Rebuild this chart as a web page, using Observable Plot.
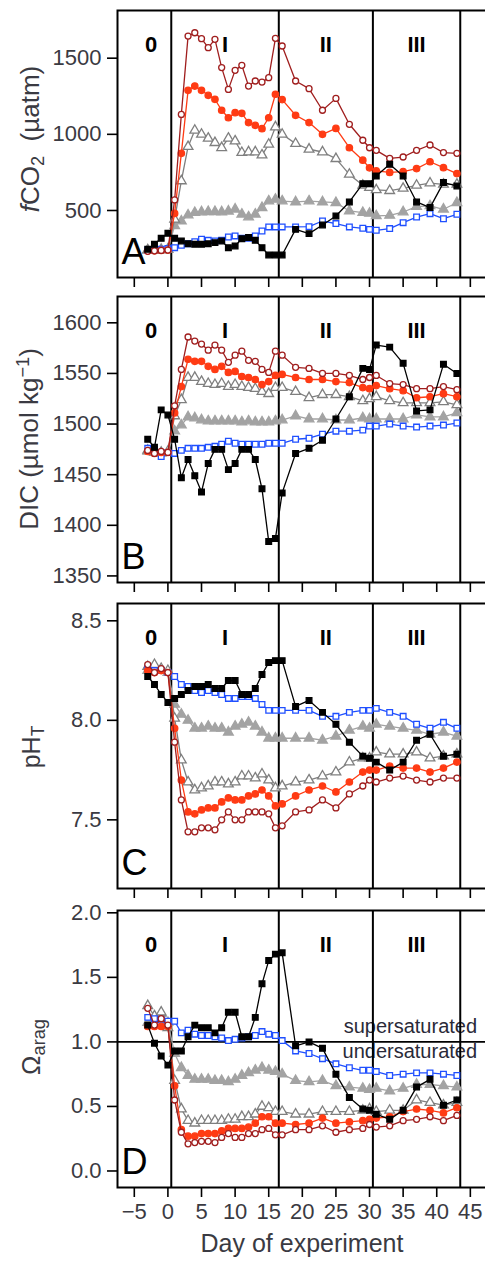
<!DOCTYPE html>
<html><head><meta charset="utf-8">
<script src="https://cdn.jsdelivr.net/npm/d3@7"></script>
<script src="https://cdn.jsdelivr.net/npm/@observablehq/plot@0.6"></script>
<style>
html,body{margin:0;padding:0;background:#fff;overflow:hidden;}
#wrap{position:relative;width:485px;height:1263px;overflow:hidden;font-family:"Liberation Sans",Arial,sans-serif;color:#3a3a42;}
#wrap svg{position:absolute;left:0;max-width:none !important;}
.ylab{position:absolute;white-space:nowrap;line-height:1;transform:translate(-50%,-50%) rotate(-90deg);}
.ylab sub{font-size:70%;vertical-align:-0.28em;line-height:0;}
.ylab sup{font-size:70%;vertical-align:0.5em;line-height:0;}
.xlab{position:absolute;white-space:nowrap;line-height:1;transform:translateX(-50%);font-size:25px;}
</style></head><body><div id="wrap"></div><script>
// ---------- shared ----------
const days = [-3,-2,-1,0,1,2,3,4,5,6,7,8,9,10,11,12,13,14,15,16,17,19,21,23,25,27,29,30,31,33,35,37,39,41,43];
const phaseNames = ["0","I","II","III"];
const phaseX = [-2.5, 8.5, 23.5, 37];
const phaseBounds = [0.5, 16.5, 30.5, 43.5];
const xTicks = [-5,0,5,10,15,20,25,30,35,40,45];

// ---------- Panel A: fCO2 (µatm) ----------
const fco2_k   = [245,278,317,350, 317,300,282,278,278,282,289,300,256,267,315,322,304,256,208,208, 208,376,348,405,464,556,676,676, 726,803,726,556,519,683,661];
const fco2_b   = [240,242,245,250, 256,271,282,295,311,304,300,304,326,333,317,317,333,365,392,392, 392,392,394,431,414,392,383,376, 370,381,420,457,479,446,475];
const fco2_gf  = [240,240,245,245, 400,430,470,486,490,492,492,490,495,508,475,457,475,518,562,573, 562,556,562,556,551,497,486,481, 465,468,490,525,530,508,551];
const fco2_go  = [240,240,240,245, 442,694,919,1026,1000,974,945,912,974,956,880,884,884,864,934,1048, 1000,939,902,884,840,737,665,650, 635,630,645,665,680,672,672];
const fco2_r   = [235,235,238,240, 481,875,1289,1317,1289,1256,1230,1158,1109,1142,1138,1077,1059,1037,1109,1263, 1228,1125,1077,1000,1039,912,830,780, 760,750,755,775,820,781,742];
const fco2_dr  = [232,235,238,240, 569,1131,1645,1667,1628,1569,1624,1438,1295,1420,1453,1317,1350,1343,1372,1630, 1580,1350,1300,1158,1236,1066,961,912, 895,842,851,895,930,880,875];

// ---------- Panel B: DIC (µmol kg-1) ----------
const dic_k  = [1485,1477,1514,1509, 1485,1447,1465,1449,1433,1461,1475,1475,1455,1461,1475,1475,1465,1436,1384,1387, 1432,1471,1476,1484,1505,1527,1555,1554, 1578,1576,1560,1513,1514,1559,1550];
const dic_b  = [1476,1475,1468,1472, 1471,1474,1476,1476,1476,1477,1478,1480,1483,1481,1480,1480,1480,1480,1481,1481, 1481,1485,1486,1490,1493,1493,1494,1498, 1498,1500,1498,1497,1498,1499,1501];
const dic_gf = [1473,1472,1471,1472, 1493,1499,1507,1506,1504,1503,1503,1503,1503,1503,1502,1503,1502,1502,1502,1503, 1504,1508,1505,1505,1504,1504,1506,1505, 1505,1505,1505,1509,1507,1507,1511];
const dic_go = [1474,1472,1472,1473, 1508,1524,1546,1546,1542,1540,1539,1540,1537,1539,1537,1536,1535,1532,1530,1536, 1536,1532,1526,1529,1529,1527,1523,1525, 1527,1523,1521,1521,1521,1522,1519];
const dic_r  = [1473,1471,1472,1472, 1511,1537,1564,1562,1562,1557,1554,1557,1551,1552,1547,1546,1544,1539,1542,1548, 1549,1546,1544,1544,1542,1541,1536,1535, 1538,1535,1533,1526,1527,1530,1527];
const dic_dr = [1474,1471,1473,1472, 1518,1554,1586,1582,1579,1573,1578,1573,1561,1568,1572,1563,1562,1554,1551,1572, 1568,1556,1555,1550,1550,1548,1544,1546, 1548,1540,1539,1535,1535,1537,1534];

// ---------- Panel C: pH_T ----------
const ph_k  = [8.22,8.18,8.13,8.09, 8.11,8.13,8.15,8.17,8.17,8.18,8.16,8.16,8.20,8.20,8.13,8.13,8.16,8.23,8.29,8.30, 8.30,8.07,8.10,8.04,7.98,7.89,7.82,7.81, 7.79,7.75,7.79,7.90,7.93,7.82,7.83];
const ph_b  = [8.26,8.25,8.25,8.24, 8.22,8.18,8.17,8.15,8.14,8.15,8.14,8.13,8.11,8.11,8.12,8.12,8.11,8.08,8.05,8.05, 8.05,8.05,8.05,8.02,8.02,8.04,8.05,8.05, 8.06,8.04,8.02,7.98,7.96,7.99,7.96];
const ph_gf = [8.25,8.27,8.25,8.24, 8.08,8.03,8.00,7.96,7.96,7.97,7.96,7.96,7.94,7.97,7.98,7.99,7.97,7.94,7.91,7.91, 7.91,7.91,7.91,7.90,7.92,7.95,7.97,7.96, 7.98,7.97,7.96,7.95,7.93,7.94,7.92];
const ph_go = [8.27,8.28,8.26,8.25, 8.01,7.80,7.69,7.65,7.66,7.67,7.69,7.69,7.68,7.69,7.72,7.72,7.71,7.73,7.70,7.66, 7.67,7.69,7.70,7.72,7.74,7.79,7.81,7.81, 7.84,7.83,7.83,7.84,7.81,7.82,7.83];
const ph_r  = [8.25,8.24,8.25,8.24, 7.96,7.70,7.54,7.53,7.55,7.56,7.56,7.59,7.61,7.60,7.60,7.62,7.63,7.65,7.62,7.57, 7.58,7.62,7.65,7.67,7.64,7.69,7.74,7.75, 7.75,7.77,7.76,7.76,7.74,7.76,7.79];
const ph_dr = [8.28,8.24,8.26,8.24, 7.89,7.60,7.44,7.44,7.46,7.46,7.45,7.50,7.54,7.50,7.50,7.54,7.54,7.54,7.53,7.46, 7.47,7.54,7.55,7.60,7.56,7.63,7.67,7.70, 7.69,7.71,7.72,7.70,7.69,7.71,7.71];

// ---------- Panel D: Omega aragonite ----------
const om_k  = [1.13,0.99,0.89,0.82, 0.93,0.93,1.04,1.13,1.11,1.11,1.07,1.11,1.23,1.23,1.04,1.04,1.19,1.45,1.63,1.68, 1.69,0.97,1.00,0.95,0.75,0.57,0.48,0.47, 0.44,0.40,0.47,0.65,0.71,0.51,0.55];
const om_b  = [1.19,1.18,1.17,1.16, 1.16,1.07,1.09,1.06,1.05,1.05,1.04,1.03,1.01,1.02,1.03,1.04,1.05,1.08,1.06,1.05, 1.01,0.93,0.91,0.87,0.83,0.80,0.78,0.78, 0.77,0.74,0.75,0.76,0.76,0.75,0.74];
const om_gf = [1.15,1.20,1.22,1.15, 0.91,0.80,0.74,0.71,0.71,0.71,0.70,0.70,0.69,0.71,0.74,0.76,0.78,0.80,0.78,0.77, 0.75,0.70,0.69,0.70,0.66,0.65,0.64,0.63, 0.64,0.62,0.64,0.67,0.67,0.66,0.65];
const om_go = [1.28,1.20,1.23,1.11, 0.70,0.48,0.39,0.37,0.39,0.39,0.39,0.39,0.40,0.40,0.42,0.42,0.44,0.50,0.49,0.46, 0.46,0.44,0.44,0.46,0.46,0.46,0.47,0.48, 0.46,0.47,0.47,0.55,0.53,0.51,0.53];
const om_r  = [1.12,1.12,1.12,1.12, 0.66,0.32,0.27,0.27,0.29,0.29,0.29,0.31,0.33,0.33,0.33,0.34,0.37,0.42,0.42,0.37, 0.37,0.36,0.37,0.41,0.37,0.38,0.39,0.40, 0.41,0.42,0.46,0.48,0.47,0.45,0.49];
const om_dr = [1.26,1.13,1.18,1.13, 0.55,0.30,0.21,0.22,0.23,0.23,0.22,0.26,0.29,0.26,0.26,0.29,0.29,0.32,0.33,0.28, 0.28,0.32,0.32,0.35,0.30,0.32,0.33,0.36, 0.34,0.35,0.39,0.40,0.42,0.39,0.43];

// ---------- styles ----------
const seriesOrder = ["gf","go","b","r","dr","k"];
const style = {
  gf: {symbol:"triangle", fill:"#a3a3a3", stroke:"#a3a3a3", line:"#a3a3a3", r:3.6},
  go: {symbol:"triangle", fill:"white",   stroke:"#7f7f7f", line:"#7f7f7f", r:3.6},
  b:  {symbol:"square",   fill:"white",   stroke:"#1f4fff", line:"#1f4fff", r:3.2},
  r:  {symbol:"circle",   fill:"#ff3b14", stroke:"#ff3b14", line:"#ff3b14", r:3.2},
  dr: {symbol:"circle",   fill:"white",   stroke:"#a01e1e", line:"#a01e1e", r:3.0},
  k:  {symbol:"square",   fill:"black",   stroke:"black",   line:"black",   r:3.2}
};

function table(series) {
  return seriesOrder.flatMap(s => days.map((d, i) => ({day: d, v: series[s][i], s})));
}

const W = 490, ML = 117, MR = 0, MT = 10;
const wrap = document.getElementById("wrap");

function panel({top, frameH, mb, yDomain, yTicks, fmt, letter, series, showX, extra = []}) {
  const data = table(series);
  const marks = [...extra, Plot.ruleX(phaseBounds, {stroke: "black", strokeWidth: 2})];
  for (const s of seriesOrder) {
    const st = style[s];
    const d = data.filter(r => r.s === s);
    marks.push(Plot.line(d, {x: "day", y: "v", stroke: st.line, strokeWidth: 1.3}));
    marks.push(Plot.dot(d, {x: "day", y: "v", symbol: st.symbol, r: st.r, fill: st.fill, stroke: st.stroke, strokeWidth: 1.3}));
  }
  marks.push(Plot.text(phaseNames, {x: phaseX, text: d => d, frameAnchor: "top", dy: 26, fontWeight: "bold", fontSize: 22, fill: "black"}));
  marks.push(Plot.text([letter], {text: d => d, frameAnchor: "bottom-left", dx: 4, dy: -14, lineAnchor: "bottom", textAnchor: "start", fontSize: 36, fill: "black"}));
  marks.push(Plot.axisY(yTicks, {tickSize: 10, tickPadding: 6, tickFormat: fmt, fontSize: 22, stroke: "black", strokeWidth: 1.6, fill: "#3a3a42", label: null}));
  marks.push(Plot.axisX(xTicks, {tickSize: 10, tickPadding: 6, fontSize: 22, stroke: "black", strokeWidth: 1.6, fill: "#3a3a42", label: null,
    tickFormat: showX ? (d => d < 0 ? "\u2212" + Math.abs(d) : String(d)) : (() => "")}));
  marks.push(Plot.frame({stroke: "black", strokeWidth: 2}));
  const svg = Plot.plot({
    width: W, height: MT + frameH + mb,
    marginLeft: ML, marginRight: MR, marginTop: MT, marginBottom: mb,
    x: {domain: [-7.5, 48]},
    y: {domain: yDomain},
    style: {fontFamily: '"Liberation Sans", Arial, sans-serif', background: "transparent", overflow: "visible", maxWidth: "none"},
    marks
  });
  svg.style.top = (top - MT) + "px";
  svg.style.maxWidth = "none";
  svg.style.width = W + "px";
  svg.style.height = (MT + frameH + mb) + "px";
  wrap.appendChild(svg);
}

panel({top: 10, frameH: 267, mb: 14, yDomain: [60, 1813], yTicks: [500, 1000, 1500], fmt: d3.format("d"), letter: "A", showX: false,
  series: {k: fco2_k, b: fco2_b, gf: fco2_gf, go: fco2_go, r: fco2_r, dr: fco2_dr}});
panel({top: 296, frameH: 286, mb: 14, yDomain: [1343.5, 1626], yTicks: [1350, 1400, 1450, 1500, 1550, 1600], fmt: d3.format("d"), letter: "B", showX: false,
  series: {k: dic_k, b: dic_b, gf: dic_gf, go: dic_go, r: dic_r, dr: dic_dr}});
panel({top: 603, frameH: 285, mb: 14, yDomain: [7.155, 8.587], yTicks: [7.5, 8.0, 8.5], fmt: d3.format(".1f"), letter: "C", showX: false,
  series: {k: ph_k, b: ph_b, gf: ph_gf, go: ph_go, r: ph_r, dr: ph_dr}});
panel({top: 910, frameH: 277, mb: 40, yDomain: [-0.128, 2.018], yTicks: [0, 0.5, 1.0, 1.5, 2.0], fmt: d3.format(".1f"), letter: "D", showX: true,
  series: {k: om_k, b: om_b, gf: om_gf, go: om_go, r: om_r, dr: om_dr},
  extra: [
    Plot.text(["supersaturated"], {text: d => d, x: () => 46, y: () => 1, dy: -9, lineAnchor: "bottom", textAnchor: "end", fontSize: 20, fill: "#2a2a38"}),
    Plot.text(["undersaturated"], {text: d => d, x: () => 46, y: () => 1, dy: 16, lineAnchor: "bottom", textAnchor: "end", fontSize: 20, fill: "#2a2a38"}),
    Plot.ruleY([1], {stroke: "black", strokeWidth: 1.6})
  ]});

// axis titles (HTML text for italics / sub- and superscripts)
function ylab(html, cx, cy, size) {
  const el = document.createElement("div");
  el.className = "ylab";
  el.innerHTML = html;
  el.style.left = cx + "px"; el.style.top = cy + "px"; el.style.fontSize = size + "px";
  wrap.appendChild(el);
}
ylab('<i>f</i>CO<sub>2</sub>&nbsp; (\u00b5atm)', 30, 139, 26);
ylab('DIC (\u00b5mol kg<sup>\u22121</sup>)', 29, 439, 26);
ylab('pH<sub>T</sub>', 30.5, 747, 25);
ylab('\u03a9<sub>arag</sub>', 30.5, 1047, 26);
const xl = document.createElement("div");
xl.className = "xlab"; xl.textContent = "Day of experiment";
xl.style.left = "302px"; xl.style.top = "1231px";
wrap.appendChild(xl);
</script></body></html>
